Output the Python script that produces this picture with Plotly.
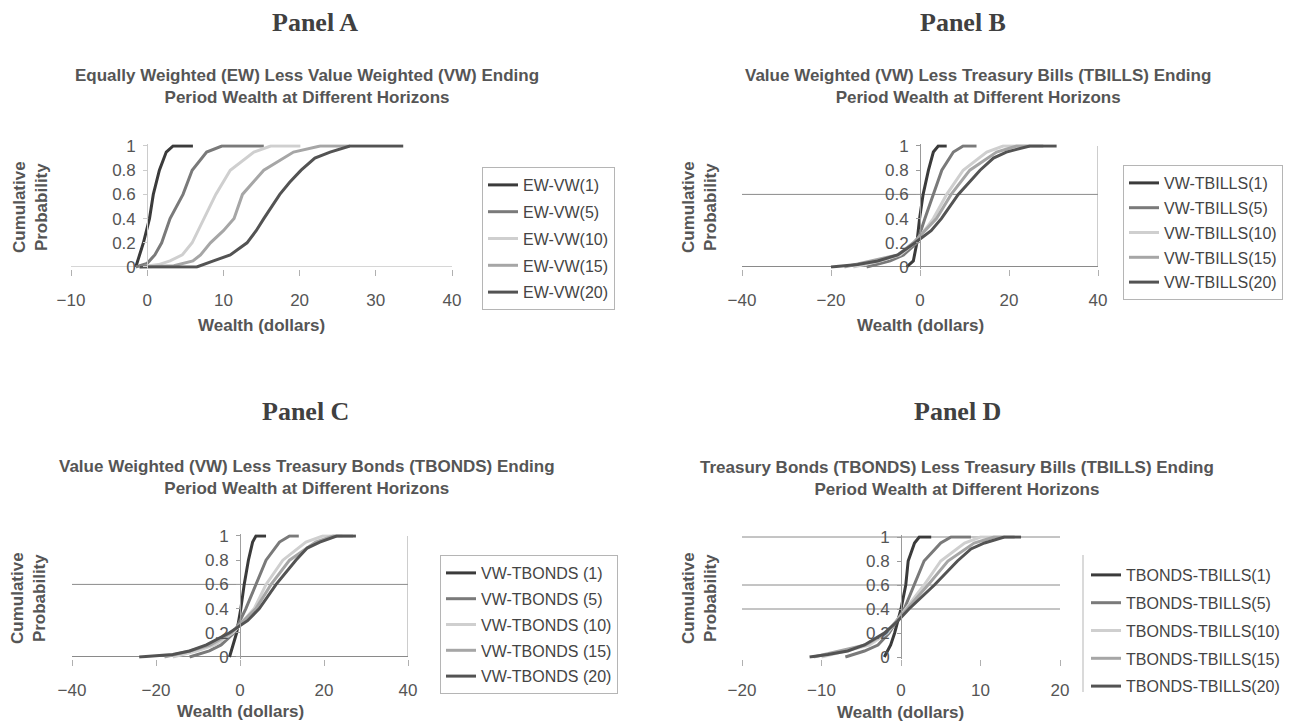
import plotly.graph_objects as go

# ---------------- data ----------------
horizons = ["1", "5", "10", "15", "20"]

# Panel A: EW - VW
A1_x = [-1.5, -0.5, 0.3, 0.8, 1.6, 2.5, 3.4, 6.0]
A1_y = [0, 0.2, 0.4, 0.6, 0.8, 0.95, 1, 1]
A5_x = [-1.5, 0.0, 1.0, 1.9, 3.0, 4.7, 5.9, 7.8, 9.8, 15.3]
A5_y = [0, 0.03, 0.1, 0.2, 0.4, 0.6, 0.8, 0.95, 1, 1]
A10_x = [-1.0, 1.5, 3.0, 4.6, 5.9, 7.5, 9.0, 10.9, 14.0, 16.2, 20.1]
A10_y = [0, 0.02, 0.05, 0.1, 0.2, 0.4, 0.6, 0.8, 0.95, 1, 1]
A15_x = [-1.0, 3.5, 6.0, 7.0, 8.3, 10.0, 11.4, 12.5, 15.3, 19.2, 22.7, 26.6]
A15_y = [0, 0.01, 0.05, 0.1, 0.2, 0.3, 0.4, 0.6, 0.8, 0.95, 1, 1]
A20_x = [-1.0, 6.5, 8.7, 10.9, 13.1, 14.3, 15.3, 16.3, 17.4, 18.7, 20.2, 22.0, 24.0, 26.6, 33.6]
A20_y = [0, 0, 0.05, 0.1, 0.2, 0.3, 0.4, 0.5, 0.6, 0.7, 0.8, 0.9, 0.95, 1, 1]

# Panel B: VW - TBILLS
B1_x = [-3.0, -1.5, -0.7, -0.1, 0.7, 1.9, 3.0, 4.1, 6.0]
B1_y = [0, 0.05, 0.2, 0.4, 0.6, 0.8, 0.95, 1, 1]
B5_x = [-12, -6.7, -3.7, -0.7, 1.1, 3.0, 4.9, 7.5, 9.7, 12.7]
B5_y = [0, 0.05, 0.1, 0.2, 0.4, 0.6, 0.8, 0.95, 1, 1]
B10_x = [-15, -9, -4.5, -1.1, 3.0, 6.0, 9.7, 15.0, 18.7, 24.7]
B10_y = [0, 0.05, 0.1, 0.2, 0.4, 0.6, 0.8, 0.95, 1, 1]
B15_x = [-17, -11, -5, -1.5, 3.7, 7.0, 11.2, 17.2, 21.7, 27.7]
B15_y = [0, 0.05, 0.1, 0.2, 0.4, 0.6, 0.8, 0.95, 1, 1]
B20_x = [-20, -14, -9.5, -5, -1.1, 2.5, 4.8, 8.6, 13.5, 16.5, 19.4, 24.7, 30.7]
B20_y = [0, 0.02, 0.05, 0.1, 0.2, 0.3, 0.4, 0.6, 0.8, 0.9, 0.95, 1, 1]

# Panel C: VW - TBONDS
C1_x = [-2.5, -1.7, -0.8, 0.2, 1.0, 2.0, 3.0, 3.8, 6.2]
C1_y = [0, 0.1, 0.2, 0.4, 0.6, 0.8, 0.95, 1, 1]
C5_x = [-12, -7.3, -4.5, -1.4, 1.4, 3.8, 6.2, 9.4, 11.8, 14.0]
C5_y = [0, 0.05, 0.1, 0.2, 0.4, 0.6, 0.8, 0.95, 1, 1]
C10_x = [-16, -10.4, -6, -1.7, 3.4, 6.2, 10.2, 15.7, 19.7, 24.4]
C10_y = [0, 0.05, 0.1, 0.2, 0.4, 0.6, 0.8, 0.95, 1, 1]
C15_x = [-18, -12, -7, -2.1, 3.8, 7.4, 11.8, 18.0, 22.2, 26.9]
C15_y = [0, 0.05, 0.1, 0.2, 0.4, 0.6, 0.8, 0.95, 1, 1]
C20_x = [-24, -16, -12, -8, -2.5, 1.8, 4.6, 8.6, 13.3, 16.0, 19.0, 23.0, 27.6]
C20_y = [0, 0.02, 0.05, 0.1, 0.2, 0.3, 0.4, 0.6, 0.8, 0.9, 0.95, 1, 1]

# Panel D: TBONDS - TBILLS
D1_x = [-2.1, -1.3, -0.8, 0.0, 0.6, 0.9, 1.7, 2.3, 3.8]
D1_y = [0, 0.1, 0.2, 0.4, 0.6, 0.8, 0.95, 1, 1]
D5_x = [-7, -4.6, -2.9, -1.5, 0.4, 1.7, 2.9, 5.0, 6.3, 8.8]
D5_y = [0, 0.05, 0.1, 0.2, 0.4, 0.6, 0.8, 0.95, 1, 1]
D10_x = [-10, -7.1, -4, -1.7, 0.6, 2.9, 5.0, 8.0, 10.0, 13.0]
D10_y = [0, 0.05, 0.1, 0.2, 0.4, 0.6, 0.8, 0.95, 1, 1]
D15_x = [-11, -7.9, -4.5, -1.9, 0.8, 3.4, 5.9, 9.2, 11.7, 14.3]
D15_y = [0, 0.05, 0.1, 0.2, 0.4, 0.6, 0.8, 0.95, 1, 1]
D20_x = [-11.5, -9.2, -6.7, -4.6, -2.1, -0.4, 1.0, 4.2, 7.1, 8.8, 10.5, 13.0, 15.1]
D20_y = [0, 0.02, 0.05, 0.1, 0.2, 0.3, 0.4, 0.6, 0.8, 0.9, 0.95, 1, 1]

panel_letters = ["A", "B", "C", "D"]
subtitles = [
    "Equally Weighted (EW) Less Value Weighted (VW) Ending<br>Period Wealth at Different Horizons",
    "Value Weighted (VW) Less Treasury Bills (TBILLS) Ending<br>Period Wealth at Different Horizons",
    "Value Weighted (VW) Less Treasury Bonds (TBONDS) Ending<br>Period Wealth at Different Horizons",
    "Treasury Bonds (TBONDS) Less Treasury Bills (TBILLS) Ending<br>Period Wealth at Different Horizons",
]
name_fmt = ["EW-VW({})", "VW-TBILLS({})", "VW-TBONDS ({})", "TBONDS-TBILLS({})"]
x_ranges = [[-10, 40], [-40, 40], [-40, 40], [-20, 20]]
x_dticks = [10, 20, 20, 10]
y_ticks = [0, 0.2, 0.4, 0.6, 0.8, 1]
ref_lines = [[], [0.6], [0.6], [1, 0.6, 0.4]]

series = [
    [(A1_x, A1_y), (A5_x, A5_y), (A10_x, A10_y), (A15_x, A15_y), (A20_x, A20_y)],
    [(B1_x, B1_y), (B5_x, B5_y), (B10_x, B10_y), (B15_x, B15_y), (B20_x, B20_y)],
    [(C1_x, C1_y), (C5_x, C5_y), (C10_x, C10_y), (C15_x, C15_y), (C20_x, C20_y)],
    [(D1_x, D1_y), (D5_x, D5_y), (D10_x, D10_y), (D15_x, D15_y), (D20_x, D20_y)],
]

# ---------------- styling / layout ----------------
PW, PH = 1296, 721


def fx(px):
    return px / PW


def fy(py):
    return 1 - py / PH


colors = ["#3b3b3b", "#7a7a7a", "#cfcfcf", "#a6a6a6", "#535353"]
SANS = "Liberation Sans, Arial, sans-serif"
SERIF = "Liberation Serif, Times New Roman, serif"
TXT = "#555555"
YLO, YHI = -0.015, 1.015

# pixel geometry per panel: (x_left, x_right, y_of_1, y_of_0)
geo = [
    (71, 452, 146, 267),
    (742, 1098, 146, 267),
    (72, 408, 536, 657),
    (742, 1060, 537, 657),
]
title_pos = [(315, 23), (963, 23), (305, 411), (957, 411)]
sub_pos = [(307, 87), (978, 87), (307, 477), (957, 478)]
xtitle_pos = [(261, 325), (920, 325), (240, 711), (900, 712)]
ytitle_pos = [(30, 207), (699, 207), (28, 598), (699, 598)]
legend_pos = [(482, 167), (1123, 165), (440, 555), (1086, 558)]
legend_gap = [3, 1, 2, 4]
yaxis_color = ["#cccccc", "#9a9a9a", "#a0a0a0", "#9a9a9a"]
zero_on = [True, True, True, False]
zero_color = ["#d6d6d6", "#8a8a8a", "#8a8a8a", "#8a8a8a"]
right_border = [False, True, True, False]

fig = go.Figure()
layout = dict(
    width=PW, height=PH, autosize=False,
    margin=dict(l=0, r=0, t=0, b=0, pad=0, autoexpand=False),
    paper_bgcolor="white", plot_bgcolor="rgba(0,0,0,0)",
    showlegend=True, annotations=[], shapes=[],
)

for i in range(4):
    sfx = "" if i == 0 else str(i + 1)
    xl, xr, y1p, y0p = geo[i]
    per = (y0p - y1p)
    top = y1p - (YHI - 1) * per
    bot = y0p + (0 - YLO) * per
    xr0, xr1 = x_ranges[i]
    zero_px = xl + (0 - xr0) / (xr1 - xr0) * (xr - xl)

    layout["xaxis" + sfx] = dict(
        domain=[fx(xl), fx(xr)], range=x_ranges[i], dtick=x_dticks[i], tick0=0,
        anchor="y" + sfx, showgrid=False, zeroline=False, showline=False,
        ticks="outside", ticklen=6, tickcolor="#b0b0b0", ticklabelstandoff=10,
        tickfont=dict(family=SANS, size=17, color=TXT), fixedrange=True,
        automargin=False,
    )
    layout["yaxis" + sfx] = dict(
        domain=[fy(bot), fy(top)], range=[YLO, YHI],
        tickvals=y_ticks, anchor="free", position=fx(zero_px),
        showgrid=False, showline=True, linecolor=yaxis_color[i], linewidth=1,
        zeroline=zero_on[i], zerolinecolor=zero_color[i], zerolinewidth=1,
        ticks="outside", ticklen=4, tickcolor=yaxis_color[i], ticklabelstandoff=4,
        tickfont=dict(family=SANS, size=17, color=TXT), fixedrange=True,
        automargin=False,
    )

    leg_key = "legend" if i == 0 else "legend" + str(i + 1)
    lx, ly = legend_pos[i]
    layout[leg_key] = dict(
        x=fx(lx), y=fy(ly), xanchor="left", yanchor="top",
        bgcolor="rgba(255,255,255,0)",
        bordercolor="#b5b5b5", borderwidth=0 if i == 3 else 1,
        font=dict(family=SANS, size=16, color="#444444"),
        traceorder="grouped", tracegroupgap=legend_gap[i], itemwidth=30,
    )

    for k, (xs, ys) in enumerate(series[i]):
        fig.add_trace(go.Scatter(
            x=xs, y=ys, mode="lines", name=name_fmt[i].format(horizons[k]),
            line=dict(color=colors[k], width=3),
            xaxis="x" + sfx, yaxis="y" + sfx,
            legend=leg_key, legendgroup=f"p{i}s{k}", hoverinfo="skip",
        ))

    for yv in ref_lines[i]:
        layout["shapes"].append(dict(
            type="line", xref="x" + sfx, yref="y" + sfx,
            x0=xr0, x1=xr1, y0=yv, y1=yv, layer="below",
            line=dict(color="#8a8a8a", width=1)))
    if right_border[i]:
        layout["shapes"].append(dict(
            type="line", xref="x" + sfx, yref="y" + sfx,
            x0=xr1, x1=xr1, y0=0, y1=1, layer="below",
            line=dict(color="#9a9a9a", width=1)))

    # titles
    tx, ty = title_pos[i]
    layout["annotations"].append(dict(
        text="Panel " + panel_letters[i], x=fx(tx), y=fy(ty), xref="paper", yref="paper",
        xanchor="center", yanchor="middle", showarrow=False,
        font=dict(family=SERIF, size=26, color="#404040", weight="bold")))
    sx, sy = sub_pos[i]
    layout["annotations"].append(dict(
        text=subtitles[i], x=fx(sx), y=fy(sy), xref="paper", yref="paper",
        xanchor="center", yanchor="middle", showarrow=False, align="center",
        font=dict(family=SANS, size=17, color=TXT, weight="bold")))
    ax, ay = xtitle_pos[i]
    layout["annotations"].append(dict(
        text="Wealth (dollars)", x=fx(ax), y=fy(ay), xref="paper", yref="paper",
        xanchor="center", yanchor="middle", showarrow=False,
        font=dict(family=SANS, size=17, color=TXT, weight="bold")))
    yx, yy = ytitle_pos[i]
    layout["annotations"].append(dict(
        text="Cumulative<br>Probability", x=fx(yx), y=fy(yy), xref="paper", yref="paper",
        xanchor="center", yanchor="middle", showarrow=False, textangle=-90,
        font=dict(family=SANS, size=17, color=TXT, weight="bold")))

# left edge line of panel D legend (only edge visible in the reference)
layout["shapes"].append(dict(
    type="line", xref="paper", yref="paper",
    x0=fx(1083), x1=fx(1083), y0=fy(555), y1=fy(692),
    line=dict(color="#b5b5b5", width=1)))

fig.update_layout(**layout)
# remove the browser's default 8px page margin so the figure fills the window exactly
fig.write_html("out.html", config={"displayModeBar": False},
               post_script="document.body.style.margin='0';document.body.style.overflow='hidden';")
